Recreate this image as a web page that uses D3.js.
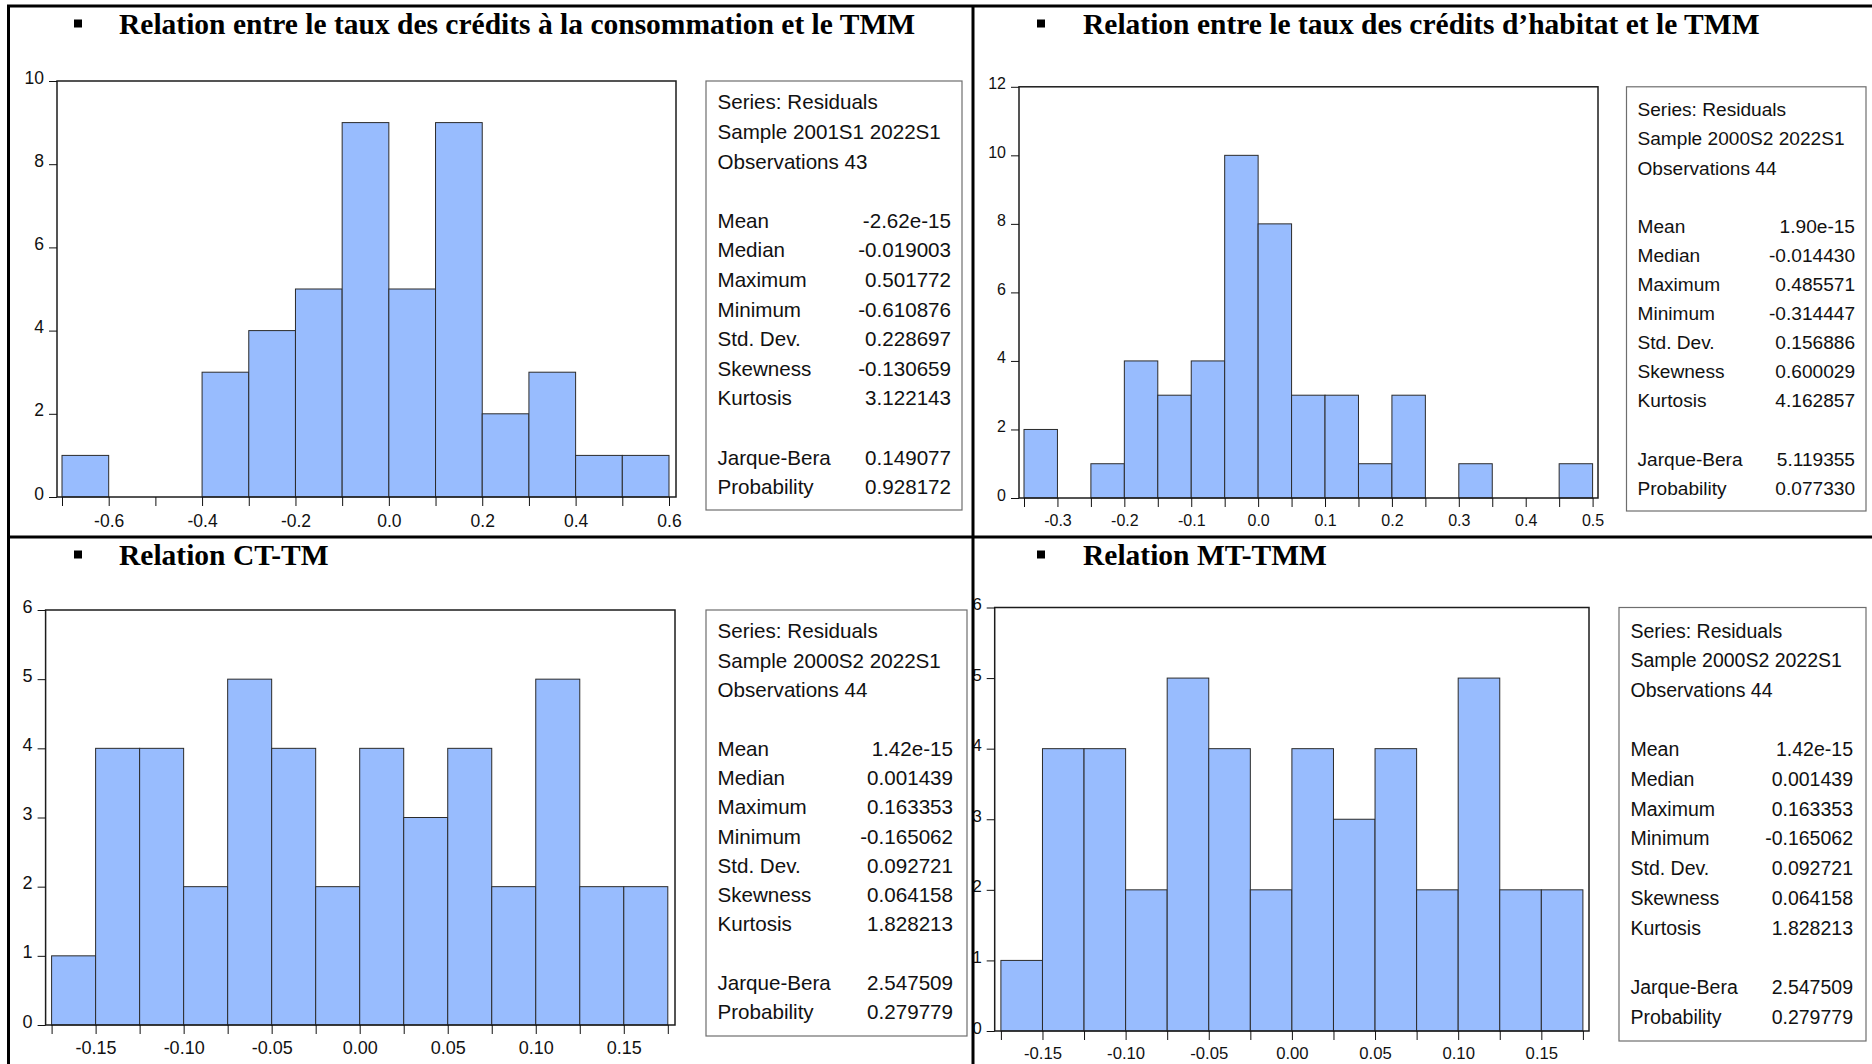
<!DOCTYPE html>
<html>
<head>
<meta charset="utf-8">
<script src="https://cdn.jsdelivr.net/npm/d3@7"></script>
<style>
  html, body { margin: 0; padding: 0; background: #fff; }
  svg { display: block; }
  .tick text { font-family: "Liberation Sans", Arial, sans-serif; fill: #111; }
</style>
</head>
<body>
<svg id="chart" width="1872" height="1064"></svg>
<script>
// ---- Residual histograms (counts per bin) ----
const consoTitle = "Relation entre le taux des crédits à la consommation et le TMM";
const consoEdges = [-0.7, -0.6, -0.5, -0.4, -0.3, -0.2, -0.1, 0.0, 0.1, 0.2, 0.3, 0.4, 0.5, 0.6];
const consoCounts = [1, 0, 0, 3, 4, 5, 9, 5, 9, 2, 3, 1, 1];
const consoXLabels = ["-0.6", "-0.4", "-0.2", "0.0", "0.2", "0.4", "0.6"];
const consoYTicks = [0, 2, 4, 6, 8, 10];
const consoSample = "Sample 2001S1 2022S1";
const consoObs = "Observations 43";
const consoStats = ["-2.62e-15", "-0.019003", "0.501772", "-0.610876", "0.228697", "-0.130659", "3.122143"];
const consoTests = ["0.149077", "0.928172"];

const habitatTitle = "Relation entre le taux des crédits d’habitat et le TMM";
const habitatEdges = [-0.35, -0.3, -0.25, -0.2, -0.15, -0.1, -0.05, 0.0, 0.05, 0.1, 0.15, 0.2, 0.25, 0.3, 0.35, 0.4, 0.45, 0.5];
const habitatCounts = [2, 0, 1, 4, 3, 4, 10, 8, 3, 3, 1, 3, 0, 1, 0, 0, 1];
const habitatXLabels = ["-0.3", "-0.2", "-0.1", "0.0", "0.1", "0.2", "0.3", "0.4", "0.5"];
const habitatYTicks = [0, 2, 4, 6, 8, 10, 12];
const habitatSample = "Sample 2000S2 2022S1";
const habitatObs = "Observations 44";
const habitatStats = ["1.90e-15", "-0.014430", "0.485571", "-0.314447", "0.156886", "0.600029", "4.162857"];
const habitatTests = ["5.119355", "0.077330"];

const ctTitle = "Relation CT-TM";
const ctEdges = [-0.175, -0.15, -0.125, -0.1, -0.075, -0.05, -0.025, 0.0, 0.025, 0.05, 0.075, 0.1, 0.125, 0.15, 0.175];
const ctCounts = [1, 4, 4, 2, 5, 4, 2, 4, 3, 4, 2, 5, 2, 2];
const ctXLabels = ["-0.15", "-0.10", "-0.05", "0.00", "0.05", "0.10", "0.15"];
const ctYTicks = [0, 1, 2, 3, 4, 5, 6];
const ctSample = "Sample 2000S2 2022S1";
const ctObs = "Observations 44";
const ctStats = ["1.42e-15", "0.001439", "0.163353", "-0.165062", "0.092721", "0.064158", "1.828213"];
const ctTests = ["2.547509", "0.279779"];

const mtTitle = "Relation MT-TMM";
const mtEdges = [-0.175, -0.15, -0.125, -0.1, -0.075, -0.05, -0.025, 0.0, 0.025, 0.05, 0.075, 0.1, 0.125, 0.15, 0.175];
const mtCounts = [1, 4, 4, 2, 5, 4, 2, 4, 3, 4, 2, 5, 2, 2];
const mtXLabels = ["-0.15", "-0.10", "-0.05", "0.00", "0.05", "0.10", "0.15"];
const mtYTicks = [0, 1, 2, 3, 4, 5, 6];
const mtSample = "Sample 2000S2 2022S1";
const mtObs = "Observations 44";
const mtStats = ["1.42e-15", "0.001439", "0.163353", "-0.165062", "0.092721", "0.064158", "1.828213"];
const mtTests = ["2.547509", "0.279779"];

const seriesName = "Series: Residuals";
const statLabels = ["Mean", "Median", "Maximum", "Minimum", "Std. Dev.", "Skewness", "Kurtosis"];
const testLabels = ["Jarque-Bera", "Probability"];

// ---- Panel geometry ----
const panels = [
  { title: consoTitle, edges: consoEdges, counts: consoCounts, xLabels: consoXLabels, yTicks: consoYTicks,
    sample: consoSample, obs: consoObs, stats: consoStats, tests: consoTests,
    frame: { l: 57, r: 676, t: 81, b: 497 }, pad: { l: 5, r: 7 }, tickFs: 17.5, xLabOff: 24,
    box: { l: 706, r: 962, t: 81, b: 510 }, txt: { lx: 717.5, rx: 951, y0: 102, dy: 29.6, fs: 20.6 },
    head: { x: 119, base: 34, bx: 78 } },
  { title: habitatTitle, edges: habitatEdges, counts: habitatCounts, xLabels: habitatXLabels, yTicks: habitatYTicks,
    sample: habitatSample, obs: habitatObs, stats: habitatStats, tests: habitatTests,
    frame: { l: 1019, r: 1598, t: 86.8, b: 498 }, pad: { l: 5, r: 5.4 }, tickFs: 16, xLabOff: 22,
    box: { l: 1626.5, r: 1866, t: 86.8, b: 511 }, txt: { lx: 1637.5, rx: 1855, y0: 109.5, dy: 29.1, fs: 19.1 },
    head: { x: 1083, base: 34, bx: 1041 } },
  { title: ctTitle, edges: ctEdges, counts: ctCounts, xLabels: ctXLabels, yTicks: ctYTicks,
    sample: ctSample, obs: ctObs, stats: ctStats, tests: ctTests,
    frame: { l: 45.6, r: 675, t: 610, b: 1025 }, pad: { l: 6, r: 7.2 }, tickFs: 18, xLabOff: 23,
    box: { l: 706, r: 967, t: 610, b: 1036 }, txt: { lx: 717.5, rx: 953, y0: 631, dy: 29.3, fs: 20.6 },
    head: { x: 119, base: 565, bx: 78 } },
  { title: mtTitle, edges: mtEdges, counts: mtCounts, xLabels: mtXLabels, yTicks: mtYTicks,
    sample: mtSample, obs: mtObs, stats: mtStats, tests: mtTests,
    frame: { l: 994.7, r: 1589, t: 607.5, b: 1031 }, pad: { l: 6.2, r: 6.1 }, tickFs: 16.7, xLabOff: 22,
    box: { l: 1619, r: 1866, t: 607.5, b: 1041 }, txt: { lx: 1630.5, rx: 1853, y0: 630.5, dy: 29.7, fs: 19.5 },
    head: { x: 1083, base: 565, bx: 1041 } }
];

const svg = d3.select("#chart");
svg.append("rect").attr("width", 1872).attr("height", 1064).attr("fill", "#fff");

const SANS = "'Liberation Sans', Arial, sans-serif";
const SERIF = "'Liberation Serif', 'Times New Roman', serif";

panels.forEach(p => {
  const g = svg.append("g");
  const f = p.frame;

  // heading with bullet
  g.append("rect")
    .attr("x", p.head.bx - 4).attr("y", p.head.base - 14.5)
    .attr("width", 8).attr("height", 8).attr("fill", "#000");
  g.append("text")
    .attr("x", p.head.x).attr("y", p.head.base)
    .attr("font-family", SERIF).attr("font-weight", "bold").attr("font-size", 29.5)
    .attr("fill", "#000")
    .text(p.title);

  // scales
  const x = d3.scaleLinear()
    .domain([p.edges[0], p.edges[p.edges.length - 1]])
    .range([f.l + p.pad.l, f.r - p.pad.r]);
  const y = d3.scaleLinear()
    .domain([0, d3.max(p.yTicks)])
    .range([f.b, f.t]);

  // bars
  const bins = p.counts.map((c, i) => ({ x0: p.edges[i], x1: p.edges[i + 1], n: c }))
    .filter(d => d.n > 0);
  g.append("g").selectAll("rect").data(bins).join("rect")
    .attr("x", d => x(d.x0))
    .attr("width", d => x(d.x1) - x(d.x0))
    .attr("y", d => y(d.n))
    .attr("height", d => y(0) - y(d.n))
    .attr("fill", "#98BCFE")
    .attr("stroke", "#2b2b2b")
    .attr("stroke-width", 1);

  // plot frame
  g.append("rect")
    .attr("x", f.l).attr("y", f.t)
    .attr("width", f.r - f.l).attr("height", f.b - f.t)
    .attr("fill", "none").attr("stroke", "#1c1c1c").attr("stroke-width", 1.5);

  // y axis
  const yAxis = g.append("g")
    .attr("transform", `translate(${f.l},0)`)
    .call(d3.axisLeft(y).tickValues(p.yTicks).tickSize(8).tickFormat(d3.format("d")));
  yAxis.select(".domain").remove();
  yAxis.selectAll(".tick line").attr("stroke", "#111");
  yAxis.selectAll(".tick text")
    .attr("x", -13).attr("dy", null).attr("y", 2)
    .attr("font-size", p.tickFs);

  // x axis: ticks at bin edges
  const xTicks = g.append("g")
    .attr("transform", `translate(0,${f.b})`)
    .call(d3.axisBottom(x).tickValues(p.edges).tickSize(9).tickFormat(() => ""));
  xTicks.select(".domain").remove();
  xTicks.selectAll(".tick line").attr("stroke", "#111");

  // x axis labels
  const xLab = g.append("g")
    .attr("transform", `translate(0,${f.b})`)
    .call(d3.axisBottom(x).tickValues(p.xLabels.map(Number)).tickSize(0)
      .tickFormat((d, i) => p.xLabels[i]));
  xLab.select(".domain").remove();
  xLab.selectAll(".tick text")
    .attr("y", p.xLabOff).attr("dy", "0.36em")
    .attr("font-size", p.tickFs);

  // statistics box
  const b = p.box, t = p.txt;
  g.append("rect")
    .attr("x", b.l).attr("y", b.t)
    .attr("width", b.r - b.l).attr("height", b.b - b.t)
    .attr("fill", "#fff").attr("stroke", "#6e6e6e").attr("stroke-width", 1.2);

  const rows = [
    { label: seriesName, row: 0 },
    { label: p.sample, row: 1 },
    { label: p.obs, row: 2 }
  ];
  statLabels.forEach((s, i) => rows.push({ label: s, value: p.stats[i], row: 4 + i }));
  testLabels.forEach((s, i) => rows.push({ label: s, value: p.tests[i], row: 12 + i }));

  const rowBase = r => t.y0 + r * t.dy + 0.36 * t.fs;
  const st = g.append("g").attr("font-family", SANS).attr("font-size", t.fs).attr("fill", "#111");
  st.selectAll("text.lab").data(rows).join("text")
    .attr("class", "lab")
    .attr("x", t.lx).attr("y", d => rowBase(d.row))
    .text(d => d.label);
  st.selectAll("text.val").data(rows.filter(d => d.value !== undefined)).join("text")
    .attr("class", "val")
    .attr("x", t.rx).attr("y", d => rowBase(d.row))
    .attr("text-anchor", "end")
    .text(d => d.value);
});

// panel separators
const sep = svg.append("g").attr("stroke", "#000").attr("stroke-width", 3);
sep.append("line").attr("x1", 7).attr("x2", 1872).attr("y1", 6).attr("y2", 6);
sep.append("line").attr("x1", 8.5).attr("x2", 8.5).attr("y1", 5).attr("y2", 1064);
sep.append("line").attr("x1", 973).attr("x2", 973).attr("y1", 5).attr("y2", 1064);
sep.append("line").attr("x1", 7).attr("x2", 1872).attr("y1", 537).attr("y2", 537);
</script>
</body>
</html>
